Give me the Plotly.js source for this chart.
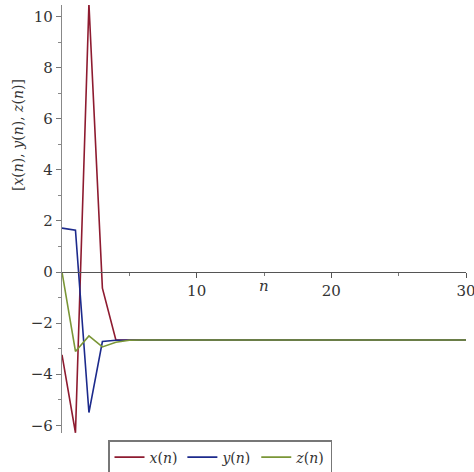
<!DOCTYPE html>
<html>
<head>
<meta charset="utf-8">
<script src="https://cdn.plot.ly/plotly-3.0.1.min.js"></script>
<style>html,body{margin:0;padding:0;background:#fff;}#chart{width:474px;height:472px;}</style>
</head>
<body>
<div id="chart"></div>
<script>
const nValues = Array.from({length: 31}, (_, i) => i);
const xSeries = [-3.24, -6.29, 10.5, -0.63, -2.66, -2.66, -2.66, -2.66, -2.66, -2.66, -2.66, -2.66, -2.66, -2.66, -2.66, -2.66, -2.66, -2.66, -2.66, -2.66, -2.66, -2.66, -2.66, -2.66, -2.66, -2.66, -2.66, -2.66, -2.66, -2.66, -2.66];
const ySeries = [1.72, 1.64, -5.5, -2.72, -2.67, -2.66, -2.66, -2.66, -2.66, -2.66, -2.66, -2.66, -2.66, -2.66, -2.66, -2.66, -2.66, -2.66, -2.66, -2.66, -2.66, -2.66, -2.66, -2.66, -2.66, -2.66, -2.66, -2.66, -2.66, -2.66, -2.66];
const zSeries = [0, -3.11, -2.5, -2.93, -2.75, -2.67, -2.66, -2.66, -2.66, -2.66, -2.66, -2.66, -2.66, -2.66, -2.66, -2.66, -2.66, -2.66, -2.66, -2.66, -2.66, -2.66, -2.66, -2.66, -2.66, -2.66, -2.66, -2.66, -2.66, -2.66, -2.66];
const seriesNames = ['<i>x</i>(<i>n</i>)', '<i>y</i>(<i>n</i>)', '<i>z</i>(<i>n</i>)'];
const seriesColors = ['#8e1b30', '#1c2a8c', '#7a9636'];
const yTickVals = [-6, -4, -2, 0, 2, 4, 6, 8, 10];
const xTickVals = [10, 20, 30];

const yRange = [-6.3, 10.45];
const serif = 'DejaVu Serif';

const traces = [xSeries, ySeries, zSeries].map((s, i) => ({
  x: nValues, y: s, type: 'scatter', mode: 'lines', name: seriesNames[i],
  line: {color: seriesColors[i], width: 1.6}
}));

const layout = {
  width: 474, height: 472,
  margin: {l: 62, r: 8, t: 5, b: 39, autoexpand: false},
  paper_bgcolor: '#fff', plot_bgcolor: '#fff',
  font: {family: serif, size: 15, color: '#333'},
  showlegend: true,
  legend: {
    orientation: 'h', xref: 'container', x: 108 / 474, xanchor: 'left',
    yref: 'container', y: (472 - 440) / 472, yanchor: 'top',
    bordercolor: '#777', borderwidth: 1.5, bgcolor: '#fff',
    font: {family: serif, size: 14, color: '#333'},
    tracegroupgap: 0, itemwidth: 30
  },
  xaxis: {
    range: [0, 30], anchor: 'free', position: (0 - yRange[0]) / (yRange[1] - yRange[0]),
    tickvals: xTickVals, ticks: 'outside', ticklen: 5, tickcolor: '#555', tickwidth: 1,
    showline: true, linecolor: '#555', linewidth: 1.2,
    showgrid: false, zeroline: false, automargin: false, ticklabeloverflow: 'allow',
    tickfont: {family: serif, size: 15, color: '#333'},
    minor: {tickvals: [5, 15, 25], ticks: 'outside', ticklen: 3, tickcolor: '#777'}
  },
  yaxis: {
    range: yRange, tickvals: yTickVals, ticks: 'outside', ticklen: 5, tickcolor: '#777', tickwidth: 1,
    showline: true, linecolor: '#888', linewidth: 1.2,
    showgrid: false, zeroline: false, automargin: false, ticklabeloverflow: 'allow',
    tickfont: {family: serif, size: 15, color: '#333'},
    minor: {dtick: 1, ticks: 'outside', ticklen: 3, tickcolor: '#888'}
  },
  annotations: [
    {text: '[<i>x</i>(<i>n</i>), <i>y</i>(<i>n</i>), <i>z</i>(<i>n</i>)]', textangle: -90,
     xref: 'paper', yref: 'paper', x: 0, xshift: -44, y: 1 - (135 - 5) / 428, yanchor: 'middle', xanchor: 'center',
     showarrow: false, font: {family: serif, size: 14, color: '#333'}},
    {text: '<i>n</i>', xref: 'x', yref: 'paper', x: 15, y: 1 - (286 - 5) / 428, yanchor: 'middle',
     showarrow: false, font: {family: serif, size: 15, color: '#333'}}
  ]
};

Plotly.newPlot('chart', traces, layout, {displayModeBar: false, staticPlot: true});
</script>
</body>
</html>
